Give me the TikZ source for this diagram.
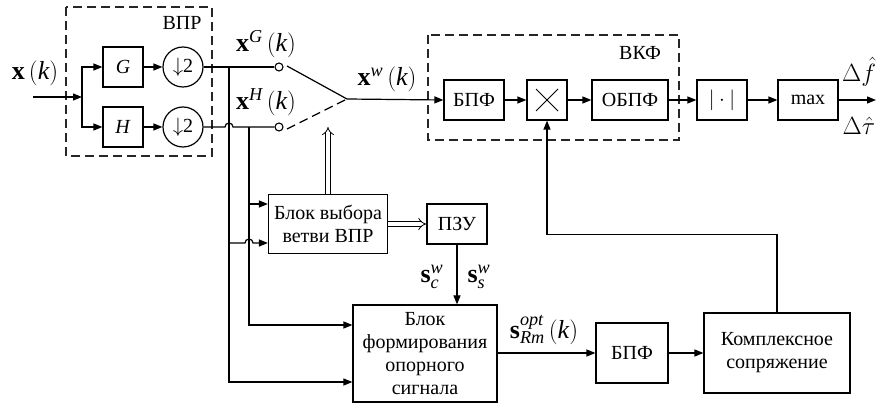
\documentclass[tikz,border=0pt]{standalone}
\usepackage{fontspec}
\setmainfont{Liberation Serif}
\newfontfamily\rusfont{Liberation Serif}
\usetikzlibrary{arrows.meta,calc}
\begin{document}
\begin{tikzpicture}[x=1pt,y=-1pt,
  font=\rusfont\fontsize{20}{23}\selectfont,
  line width=1.2pt,
  arr/.style={-{Triangle[length=9pt,width=7pt]}},
  dbl/.style={double,double distance=3.5pt,line width=0.8pt,-{Implies[length=8pt]}},
  blk/.style={draw,line width=1.2pt,inner sep=0pt,align=center},
  grp/.style={draw=black!85,line width=1.4pt,dash pattern=on 9pt off 5pt},
  dn/.style={draw,circle,line width=1.2pt,inner sep=0pt,minimum size=40pt},
  ct/.style={draw,circle,line width=1.1pt,inner sep=0pt,minimum size=8pt},
  lbl/.style={inner sep=0pt},
  mlbl/.style={inner sep=0pt,font=\rusfont\fontsize{26}{28}\selectfont}]
\useasboundingbox (0,0) rectangle (878,403);

% dashed groups
\draw[grp] (66,7) rectangle (212,156);
\node[lbl] (tvpr) at (182,23) {ВПР};
\draw[grp] (428,35) rectangle (679,140);
\node[lbl] (tvkf) at (640,53) {ВКФ};

% nodes
\coordinate (in) at (33,97);
\coordinate (split) at (82,97);
\node[blk,minimum width=40pt,minimum height=40pt] (G) at (123,67) {\textit{G}};
\node[blk,minimum width=40pt,minimum height=40pt] (H) at (123,127) {\textit{H}};
\node[dn] (dG) at (183,67) {$\downarrow$2};
\node[dn] (dH) at (183,127) {$\downarrow$2};
\node[ct] (cG) at (279,67) {};
\node[ct] (cH) at (279,127) {};
\coordinate (sw) at (347,99);
\coordinate (bG) at (287,66);
\coordinate (bH) at (287,129);
\node[blk,minimum width=60pt,minimum height=40pt] (fft1) at (474,100) {БПФ};
\node[blk,minimum width=40pt,minimum height=40pt] (mul) at (547,100) {};
\node[blk,minimum width=76pt,minimum height=40pt] (ifft) at (630,100) {ОБПФ};
\node[blk,minimum width=50pt,minimum height=40pt] (abs) at (722,100) {$|\cdot|$};
\node[blk,minimum width=60pt,minimum height=40pt] (mx) at (808,100) {max};
\coordinate (out) at (876,100);
\node[blk,minimum width=119pt,minimum height=59pt] (sel) at (328,224) {Блок выбора\\ветви ВПР};
\node[blk,minimum width=60pt,minimum height=40pt] (rom) at (457,224) {ПЗУ};
\node[blk,minimum width=144pt,minimum height=97pt] (ref) at (425,353.5) {Блок\\формирования\\опорного\\сигнала};
\node[blk,minimum width=72pt,minimum height=60pt] (fft2) at (632,353) {БПФ};
\node[blk,minimum width=146pt,minimum height=80pt] (conj) at (777,353) {Комплексное\\сопряжение};

% multiplier cross
\draw[line width=1pt] ($(mul.center)+(-11,-11)$) -- ($(mul.center)+(11,11)$);
\draw[line width=1pt] ($(mul.center)+(-11,11)$) -- ($(mul.center)+(11,-11)$);

% labels
\node[mlbl] (lx) at (35,73) {$\mathbf{x}\,(\mathit{k})$};
\node[mlbl] (lxg) at (266,44) {$\mathbf{x}^{\mathit{G}}\,(\mathit{k})$};
\node[mlbl] (lxh) at (266,102) {$\mathbf{x}^{\mathit{H}}\,(\mathit{k})$};
\node[mlbl] (lxw) at (387,79) {$\mathbf{x}^{\mathit{w}}\,(\mathit{k})$};
\node[mlbl] (lsc) at (432,277) {$\mathbf{s}_{\mathit{c}}^{\mathit{w}}$};
\node[mlbl] (lss) at (479,277) {$\mathbf{s}_{\mathit{s}}^{\mathit{w}}$};
\node[mlbl] (lsr) at (544,330) {$\mathbf{s}_{\mathit{Rm}}^{\mathit{opt}}\,(\mathit{k})$};
\node[mlbl,font=\fontsize{24}{26}\selectfont] (ldf) at (859,72) {$\Delta\hat{f}$};
\node[mlbl,font=\fontsize{24}{26}\selectfont] (ldt) at (859,126) {$\Delta\hat{\tau}$};

% input
\draw[arr] (in) -- (split);
\draw[arr] (split) |- (G.west);
\draw[arr] (split) |- (H.west);
\draw[arr] (G) -- (dG);
\draw[arr] (H) -- (dH);

% outputs of filter bank
\coordinate (jG) at (229,67);
\coordinate (jH) at (249,127);
\draw (dG.east) -- (cG.west);
\draw (dH.east) -- (225,127) arc[start angle=180,end angle=360,radius=4] -- (cH.west);

% switch
\draw (bG) -- (sw);
\draw[dash pattern=on 9pt off 5pt] (bH) -- (sw);
\draw[arr] (sw) -- (fft1.west);
\draw[dbl] (sel.north) -- (sel.north |- 0,127);

% taps to lower blocks
\coordinate (yA) at (0,204);
\coordinate (yB) at (0,243);
\coordinate (yC) at (0,325);
\coordinate (yD) at (0,382);
\draw[arr] (jG) |- (ref.west |- yD);
\draw[arr] (jH) |- (ref.west |- yC);
\draw[arr] (jH |- yA) -- (sel.west |- yA);
\draw[arr] (jG |- yB) -- (245,243) arc[start angle=180,end angle=360,radius=4] -- (sel.west |- yB);

% selection and ROM
\draw[dbl] (sel.east) -- (rom.west);
\draw[arr] (rom.south) -- (rom.south |- ref.north);

% main chain
\draw[arr] (fft1) -- (mul);
\draw[arr] (mul) -- (ifft);
\draw[arr] (ifft) -- (abs);
\draw[arr] (abs) -- (mx);
\draw[arr] (mx) -- (out);

% reference chain
\draw[arr] (ref.east |- fft2.west) -- (fft2.west);
\draw[arr] (fft2) -- (conj);
\draw[arr] (conj.north) -- ++(0,-78) -| (mul.south);
\end{tikzpicture}
\end{document}
